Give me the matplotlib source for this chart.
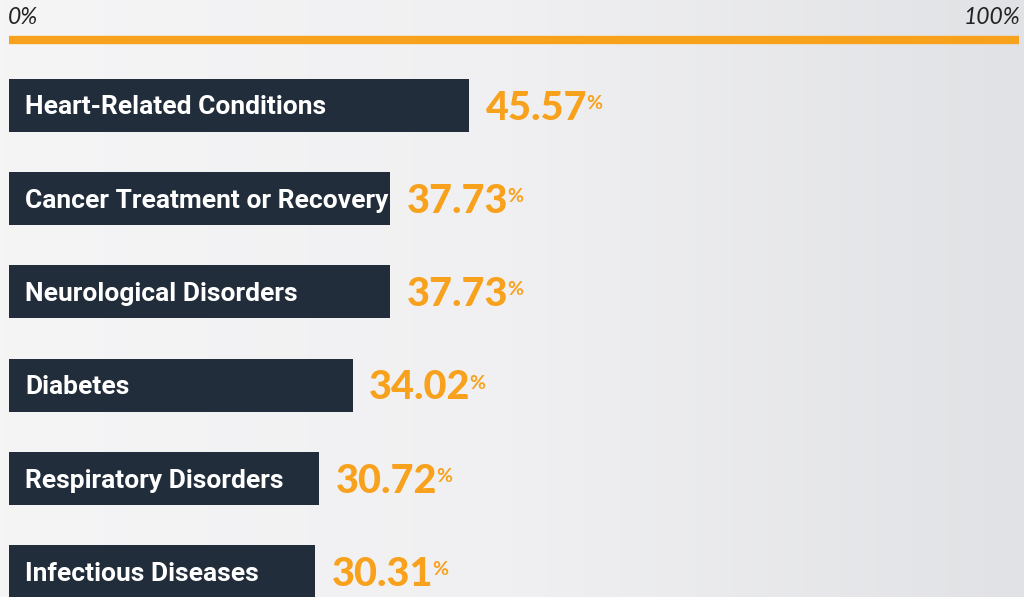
import numpy as np
import matplotlib
matplotlib.use("Agg")
import matplotlib.pyplot as plt
from matplotlib.colors import LinearSegmentedColormap

categories = ["Heart-Related Conditions", "Cancer Treatment or Recovery",
              "Neurological Disorders", "Diabetes", "Respiratory Disorders",
              "Infectious Diseases"]
values = [45.57, 37.73, 37.73, 34.02, 30.72, 30.31]
value_labels = ["45.57", "37.73", "37.73", "34.02", "30.72", "30.31"]
axis_labels = ["0%", "100%"]

BAR = "#222d3b"
ORANGE = "#f7a11c"
W, H = 1024, 597

fig = plt.figure(figsize=(W / 100, H / 100), dpi=100)

# background gradient
bg = fig.add_axes([0, 0, 1, 1])
grad = np.linspace(0, 1, 256).reshape(1, -1)
cmap = LinearSegmentedColormap.from_list("bg", ["#f5f5f6", "#f0f0f2", "#e1e2e5"])
bg.imshow(grad, aspect="auto", cmap=cmap, extent=[0, 1, 0, 1])
bg.set_axis_off()

# main axes: x 0..100 mapped to pixels 9..1019
x0, x1 = 9, 1019
ax = fig.add_axes([x0 / W, 0, (x1 - x0) / W, 1])
ax.set_xlim(0, 100)
spacing = 93.3
first = 105.3
ax.set_ylim((H - first) / spacing, -first / spacing)
ax.set_axis_off()
ax.patch.set_alpha(0)

ypos = np.arange(len(categories))
ax.barh(ypos, values, height=53 / spacing, color=BAR, left=0)

# top orange line
line_y = (40 - first) / spacing
ax.plot([0, 100], [line_y, line_y], color=ORANGE, lw=6, solid_capstyle="butt")
ax.text(-0.1, (18 - first) / spacing, axis_labels[0], fontsize=16.5, style="italic",
        family="Lato", color="#222222", ha="left", va="center")
ax.text(100.1, (18 - first) / spacing, axis_labels[1], fontsize=16.5, style="italic",
        family="Lato", color="#222222", ha="right", va="center")

for y, cat, v, vl in zip(ypos, categories, values, value_labels):
    ax.annotate(cat, xy=(0, y), xytext=(11.5, -1.5), textcoords="offset points",
                ha="left", va="center", color="white", fontsize=19,
                fontweight="bold", family="Roboto")
    t = ax.annotate(vl, xy=(v, y), xytext=(12, -2), textcoords="offset points",
                    ha="left", va="center", color=ORANGE, fontsize=28.5,
                    fontweight=900, family="Lato")
    ax.annotate("%", xy=(1, 0.86), xycoords=t, xytext=(-1, 0),
                textcoords="offset points", ha="left", va="top",
                color=ORANGE, fontsize=14, fontweight="bold", family="Lato")

fig.savefig("out.png", dpi=100)
